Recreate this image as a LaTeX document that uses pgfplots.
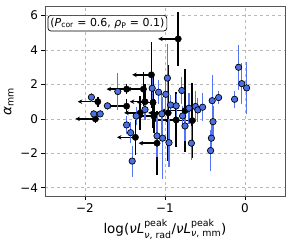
\documentclass[border=0pt]{standalone}
\usepackage{pgfplots}
\pgfplotsset{compat=1.18}
\usepackage{pgfplotstable}
\usepackage{amsmath}
\usepackage{fontspec}
\setmainfont{DejaVu Sans}
\usetikzlibrary{arrows.meta}
\definecolor{bluefill}{HTML}{4A6FE3}
\definecolor{bluebar}{HTML}{5575F2}
\definecolor{framegray}{HTML}{555555}

\pgfplotstableread{
x y e
-1.92 1.26 0.25
-1.89 0.29 0.2
-1.81 0.29 0.2
-1.72 0.76 0.25
-1.59 1.59 1.1
-1.48 -0.35 0.5
-1.43 -0.80 0.6
-1.41 -2.45 0.9
-1.36 0.17 0.5
-1.25 0.54 0.6
-1.16 1.78 0.9
-1.08 1.55 0.7
-0.99 1.43 1.0
-0.97 2.37 2.0
-0.79 1.65 0.8
-1.04 0.29 1.2
-0.93 0.81 0.6
-0.86 0.76 0.7
-0.78 0.17 0.6
-0.75 -0.41 0.9
-0.70 0.62 0.9
-0.62 0.72 0.9
-0.59 0.52 0.7
-0.53 0.68 0.8
-0.41 1.06 1.5
-0.33 1.24 0.4
-0.13 1.14 0.5
-0.08 3.00 1.3
-0.04 2.05 1.2
0.02 1.80 1.5
-0.40 -0.16 0.9
-0.42 -1.12 0.8
-0.43 -1.84 1.2
-0.67 -1.41 1.0
-0.95 -1.38 1.4
-1.03 -1.12 2.4
-1.10 -0.99 1.2
}\bluedata

\pgfplotstableread{
x y u e
-0.835 4.65 -0.25 1.55
-1.17 2.56 -0.24 1.9
-1.48 1.73 -0.25 0.3
-1.27 1.73 -0.21 1.0
-1.84 1.00 -0.25 0.3
-1.48 0.74 -0.25 0.4
-1.87 0.00 -0.25 0.25
-1.31 0.35 -0.20 1.0
-1.25 1.00 -0.19 1.0
-1.15 0.95 -0.20 1.5
-1.37 -1.07 -0.23 1.0
-1.10 -1.41 -0.23 1.85
-0.96 0.35 -0.25 2.8
-0.75 0.48 -0.30 2.4
-0.86 -0.06 -0.30 1.6
-0.66 -0.10 -0.35 2.2
-1.14 0.17 -0.20 1.0
}\blackdata

\begin{document}
\begin{tikzpicture}
\useasboundingbox (-45bp,-43.3bp) rectangle (255bp,196.7bp);
\begin{axis}[
  at={(0,0)}, anchor=south west,
  scale only axis, width=240bp, height=190.7bp,
  xmin=-2.5, xmax=0.5, ymin=-4.52, ymax=6.56,
  xtick={-2,-1,0}, xticklabels={−2,−1,0},
  ytick={-4,-2,0,2,4,6}, yticklabels={−4,−2,0,2,4,6},
  tick align=outside, tick pos=left,
  major tick length=3.5bp,
  grid=major, grid style={dashed, gray!55, line width=0.6bp},
  axis line style={framegray, line width=0.9bp},
  every tick/.style={black, line width=0.8bp},
  tick label style={font=\fontsize{12}{14}\selectfont},
  label style={font=\fontsize{13.5}{16}\selectfont},
  xlabel={log(\textit{νL}$^{\text{peak}}_{\text{\textit{ν}, rad}}$/\textit{νL}$^{\text{peak}}_{\text{\textit{ν}, mm}}$)},
  ylabel={\textit{α}$_{\text{mm}}$},
]
% black: vertical error bars
\addplot[only marks, mark=none,
  error bars/.cd, y dir=both, y explicit, error mark=none,
  error bar style={draw=black, line width=1.5bp}]
  table[x=x, y=y, y error=e] {\blackdata};
% black: upper-limit arrows
\addplot[black, mark=none, line width=1.4bp, -{Stealth[length=4.5bp,width=4.5bp]},
  quiver={u=\thisrow{u}, v=0}]
  table[x=x, y=y] {\blackdata};
% black markers
\addplot[only marks, mark=*, mark size=3.2bp, mark options={fill=black, draw=black}]
  table[x=x, y=y] {\blackdata};
% blue error bars
\addplot[only marks, mark=none,
  error bars/.cd, y dir=both, y explicit, error mark=none,
  error bar style={draw=bluebar, line width=1.1bp}]
  table[x=x, y=y, y error=e] {\bluedata};
% blue markers
\addplot[only marks, mark=*, mark size=3.2bp, mark options={fill=bluefill, draw=black, line width=0.7bp}]
  table[x=x, y=y] {\bluedata};
\node[draw=black, rounded corners=3bp, fill=white, line width=0.7bp, inner sep=2.5bp,
  font=\fontsize{11}{13}\selectfont] at (rel axis cs:0.26,0.91)
  {(\textit{P}$_{\text{cor}}$ = 0.6, \textit{ρ}$_{\text{P}}$ = 0.1)};
\end{axis}
\end{tikzpicture}
\end{document}
